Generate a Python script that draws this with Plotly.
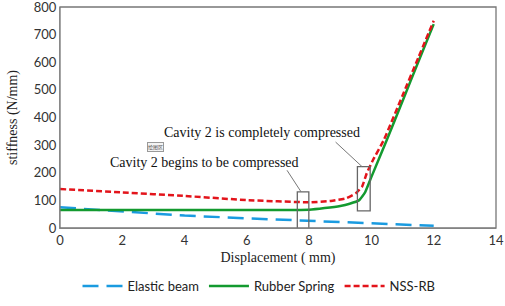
import plotly.graph_objects as go

# Data
elastic_x = [0, 2, 4, 6, 8, 10, 12]
elastic_y = [75, 59, 45, 35, 25, 17, 8]

rubber_x = [0, 2, 4, 6, 7, 8, 8.5, 9, 9.3, 9.6, 9.8, 10, 10.5, 11, 11.5, 12]
rubber_y = [65, 65, 65, 65, 65, 66, 72, 80, 88, 100, 130, 185, 320, 460, 600, 738]

nss_x = [0, 2, 4, 6, 8, 8.7, 9.2, 9.5, 9.7, 9.85, 10.05, 10.4, 11, 11.5, 12]
nss_y = [141, 129, 116, 101, 93, 98, 108, 126, 150, 198, 246, 319, 480, 615, 750]

x_ticks = [0, 2, 4, 6, 8, 10, 12, 14]
y_ticks = [0, 100, 200, 300, 400, 500, 600, 700, 800]

sans = "Lato, 'Open Sans', sans-serif"
serif = "'Liberation Serif', 'Times New Roman', serif"

fig = go.Figure()
fig.add_trace(go.Scatter(x=elastic_x, y=elastic_y, mode="lines", name="Elastic beam",
                         line=dict(color="#1a9be0", width=2.5, dash="16px,8px")))
fig.add_trace(go.Scatter(x=rubber_x, y=rubber_y, mode="lines", name="Rubber Spring",
                         line=dict(color="#139a2f", width=2.5, shape="spline", smoothing=0.4)))
fig.add_trace(go.Scatter(x=nss_x, y=nss_y, mode="lines", name="NSS-RB",
                         line=dict(color="#e3141b", width=2.5, dash="6px,3px", shape="spline", smoothing=0.4)))

# Boxes marking the cavity stages
fig.add_shape(type="rect", xref="x", yref="y", x0=7.62, x1=7.99, y0=-3, y1=131,
              line=dict(color="#666666", width=1.3))
fig.add_shape(type="rect", xref="x", yref="y", x0=9.55, x1=9.96, y0=62, y1=222,
              line=dict(color="#666666", width=1.3))
# Plot frame
fig.add_shape(type="rect", xref="paper", yref="paper", x0=0, x1=1, y0=0, y1=1,
              line=dict(color="#777777", width=1.3))

# Annotations
fig.add_annotation(x=7.74, y=131, ax=-15, ay=-23, showarrow=True, arrowhead=0,
                   arrowwidth=1, arrowcolor="#777777", text="")
fig.add_annotation(x=9.70, y=222, ax=-28, ay=-26, showarrow=True, arrowhead=0,
                   arrowwidth=1, arrowcolor="#777777", text="")
fig.add_annotation(xref="paper", yref="paper", x=(262 - 60) / 436, y=(228 - 132) / 221,
                   xanchor="center", yanchor="middle",
                   text="Cavity 2 is completely compressed", showarrow=False,
                   font=dict(family=serif, size=14, color="#111111"))
fig.add_annotation(xref="paper", yref="paper", x=(204 - 60) / 436, y=(228 - 162) / 221,
                   xanchor="center", yanchor="middle",
                   text="Cavity 2 begins to be compressed", showarrow=False,
                   font=dict(family=serif, size=14, color="#111111"))
fig.add_annotation(xref="paper", yref="paper", x=(155 - 60) / 436, y=(228 - 146.5) / 221,
                   xanchor="center", yanchor="middle",
                   text="绘图区", showarrow=False, bordercolor="#999999", borderwidth=1,
                   borderpad=0, bgcolor="#f4f4f4",
                   font=dict(family="'Noto Sans CJK SC'", size=5, color="#555555"))

fig.update_layout(
    width=505, height=306,
    margin=dict(l=60, r=9, t=7, b=78, autoexpand=False),
    paper_bgcolor="white", plot_bgcolor="white",
    showlegend=True,
    legend=dict(orientation="h", x=(259 - 60) / 436, xanchor="center", y=-0.195, yanchor="top",
                font=dict(family=sans, size=13, color="#222222"),
                itemwidth=40, tracegroupgap=0),
    xaxis=dict(range=[0, 14], tickvals=x_ticks, showgrid=False, zeroline=False,
               showline=True, linecolor="#aaaaaa", ticks="", automargin=False,
               ticklabeloverflow="allow",
               tickfont=dict(family=sans, size=13, color="#333333"),
               title=dict(text="Displacement ( mm)", standoff=5,
                          font=dict(family=serif, size=14, color="#222222"))),
    yaxis=dict(range=[0, 800], tickvals=y_ticks, showgrid=False, zeroline=False,
               showline=True, linecolor="#aaaaaa", ticks="", automargin=False,
               ticklabeloverflow="allow",
               tickfont=dict(family=sans, size=13, color="#333333"),
               title=dict(text="stiffness (N/mm)", standoff=12,
                          font=dict(family=serif, size=14, color="#222222"))),
)

fig.write_html("out.html", config={"displayModeBar": False},
               post_script="document.body.style.margin='0';document.body.style.padding='0';"
                           "document.body.style.overflow='hidden';")
